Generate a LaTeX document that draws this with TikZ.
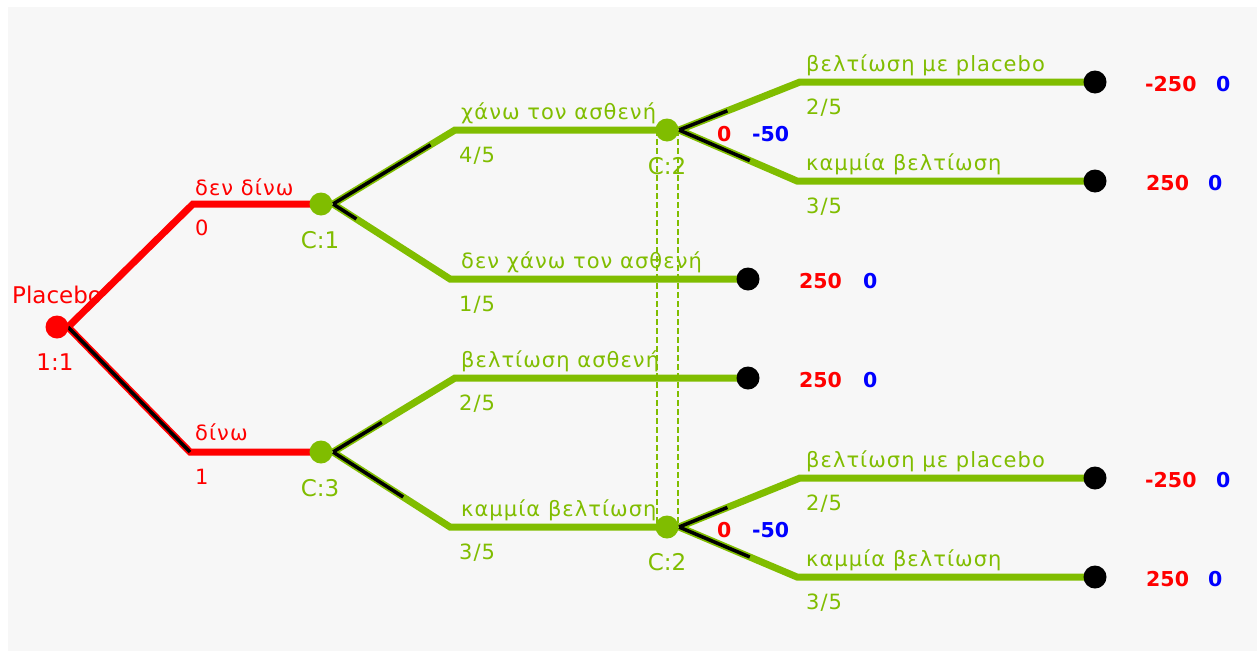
\documentclass[tikz,border=0pt]{standalone}
\usepackage{fontspec}
\setmainfont{DejaVu Sans}
\newfontfamily\lblfont[LetterSpace=5]{DejaVu Sans}
\newfontfamily\nodefont{DejaVu Sans}
\usetikzlibrary{calc,backgrounds}
\definecolor{tgreen}{RGB}{128,189,0}
\definecolor{tred}{RGB}{255,0,0}
\definecolor{tblue}{RGB}{0,0,255}
\definecolor{bggray}{RGB}{247,247,247}
\tikzset{
  gbranch/.style={line width=7pt, draw=tgreen},
  rbranch/.style={line width=7pt, draw=tred},
  probmark/.style={line width=3.5pt, draw=black},
  dotnode/.style={circle, inner sep=0pt, minimum size=23pt},
  dnode/.style={dotnode, fill=tred},
  cnode/.style={dotnode, fill=tgreen},
  tnode/.style={dotnode, fill=black},
  blbl/.style={anchor=base west, inner sep=0pt, font=\lblfont\fontsize{21}{25}\selectfont},
  glbl/.style={blbl, text=tgreen},
  rlbl/.style={blbl, text=tred},
  nlbl/.style={anchor=base, inner sep=0pt, font=\nodefont\fontsize{23}{27}\selectfont},
  vlbl/.style={anchor=base west, inner sep=0pt, font=\bfseries\fontsize{20.5}{24}\selectfont},
  rval/.style={vlbl, text=tred},
  bval/.style={vlbl, text=tblue},
  link/.style={draw=tgreen, line width=1.3pt, dash pattern=on 6pt off 3pt},
}
\begin{document}
\begin{tikzpicture}[x=1pt,y=-1pt]
\useasboundingbox (0,0) rectangle (1260,651);

% nodes
\node[dnode] (R) at (57,327) {};
\node[cnode] (C1) at (321,204) {};
\node[cnode] (C3) at (321,452) {};
\node[cnode] (C2a) at (667,130) {};
\node[cnode] (C2b) at (667,527) {};
\node[tnode] (T1) at (748,279) {};
\node[tnode] (T2) at (748,378) {};
\node[tnode] (T3) at (1095,82) {};
\node[tnode] (T4) at (1095,181) {};
\node[tnode] (T5) at (1095,478) {};
\node[tnode] (T6) at (1095,577) {};

% elbows
\coordinate (eR1) at (193,204);
\coordinate (eR2) at (190,452);
\coordinate (e11) at (455,130);
\coordinate (e12) at (450,279);
\coordinate (e31) at (455,378);
\coordinate (e32) at (450,527);
\coordinate (ea1) at (800,82);
\coordinate (ea2) at (797,181);
\coordinate (eb1) at (800,478);
\coordinate (eb2) at (797,577);
\coordinate (sR) at ($(R.center)+(11,0)$);
\coordinate (s1) at ($(C1.center)+(12,0)$);
\coordinate (s3) at ($(C3.center)+(12,0)$);
\coordinate (sa) at ($(C2a.center)+(12,0)$);
\coordinate (sb) at ($(C2b.center)+(12,0)$);

\begin{scope}[on background layer]
\fill[white] (0,0) rectangle (1260,651);
\fill[bggray] (8,7) rectangle (1257,651);
% dashed link between C:2 nodes
\draw[link] ([xshift=-10pt]C2a.center) -- ([xshift=-10pt]C2b.center);
\draw[link] ([xshift=11pt]C2a.center) -- ([xshift=11pt]C2b.center);
% branches
\draw[rbranch] (sR) -- (eR1) -- (C1.center);
\draw[rbranch] (sR) -- (eR2) -- (C3.center);
\draw[gbranch] (s1) -- (e11) -- (C2a.center);
\draw[gbranch] (s1) -- (e12) -- (T1.center);
\draw[gbranch] (s3) -- (e31) -- (T2.center);
\draw[gbranch] (s3) -- (e32) -- (C2b.center);
\draw[gbranch] (sa) -- (ea1) -- (T3.center);
\draw[gbranch] (sa) -- (ea2) -- (T4.center);
\draw[gbranch] (sb) -- (eb1) -- (T5.center);
\draw[gbranch] (sb) -- (eb2) -- (T6.center);
% probability marks
\draw[probmark] (sR) -- (eR2);
\draw[probmark] (s1) -- ($(s1)!0.8!(e11)$);
\draw[probmark] (s1) -- ($(s1)!0.2!(e12)$);
\draw[probmark] (s3) -- ($(s3)!0.4!(e31)$);
\draw[probmark] (s3) -- ($(s3)!0.6!(e32)$);
\draw[probmark] (sa) -- ($(sa)!0.4!(ea1)$);
\draw[probmark] (sa) -- ($(sa)!0.6!(ea2)$);
\draw[probmark] (sb) -- ($(sb)!0.4!(eb1)$);
\draw[probmark] (sb) -- ($(sb)!0.6!(eb2)$);
\end{scope}

% node labels
\node[nlbl, text=tred, anchor=base west] (lPl) at (12,303) {Placebo};
\node[nlbl, text=tred] (l11) at (55,370) {1:1};
\node[nlbl, text=tgreen] (lC1) at (320,248) {C:1};
\node[nlbl, text=tgreen] (lC3) at (320,496) {C:3};
\node[nlbl, text=tgreen] (lC2a) at (667,174) {C:2};
\node[nlbl, text=tgreen] (lC2b) at (667,570) {C:2};

% branch labels
\node[rlbl] (b1) at (195,195) {δεν δίνω};
\node[rlbl] (p1) at (195,235) {0};
\node[rlbl] (b2) at (195,440) {δίνω};
\node[rlbl] (p2) at (195,484) {1};
\node[glbl] (b3) at (461,119) {χάνω τον ασθενή};
\node[glbl] (p3) at (459,162) {4/5};
\node[glbl] (b4) at (461,268) {δεν χάνω τον ασθενή};
\node[glbl] (p4) at (459,311) {1/5};
\node[glbl] (b5) at (461,367) {βελτίωση ασθενή};
\node[glbl] (p5) at (459,410) {2/5};
\node[glbl] (b6) at (461,516) {καμμία βελτίωση};
\node[glbl] (p6) at (459,559) {3/5};
\node[glbl] (b7) at (806,71) {βελτίωση με placebo};
\node[glbl] (p7) at (806,114) {2/5};
\node[glbl] (b8) at (806,170) {καμμία βελτίωση};
\node[glbl] (p8) at (806,213) {3/5};
\node[glbl] (b9) at (806,467) {βελτίωση με placebo};
\node[glbl] (p9) at (806,510) {2/5};
\node[glbl] (b10) at (806,566) {καμμία βελτίωση};
\node[glbl] (p10) at (806,609) {3/5};

% chance node values
\node[rval] (ra) at (717,141) {0};
\node[bval] (ba) at (752,141) {-50};
\node[rval] (rb) at (717,537) {0};
\node[bval] (bb) at (752,537) {-50};

% payoffs
\node[rval] (v1) at (799,288) {250};
\node[bval] (w1) at (863,288) {0};
\node[rval] (v2) at (799,387) {250};
\node[bval] (w2) at (863,387) {0};
\node[rval] (v3) at (1145,91) {-250};
\node[bval] (w3) at (1216,91) {0};
\node[rval] (v4) at (1146,190) {250};
\node[bval] (w4) at (1208,190) {0};
\node[rval] (v5) at (1145,487) {-250};
\node[bval] (w5) at (1216,487) {0};
\node[rval] (v6) at (1146,586) {250};
\node[bval] (w6) at (1208,586) {0};
\end{tikzpicture}
\end{document}
